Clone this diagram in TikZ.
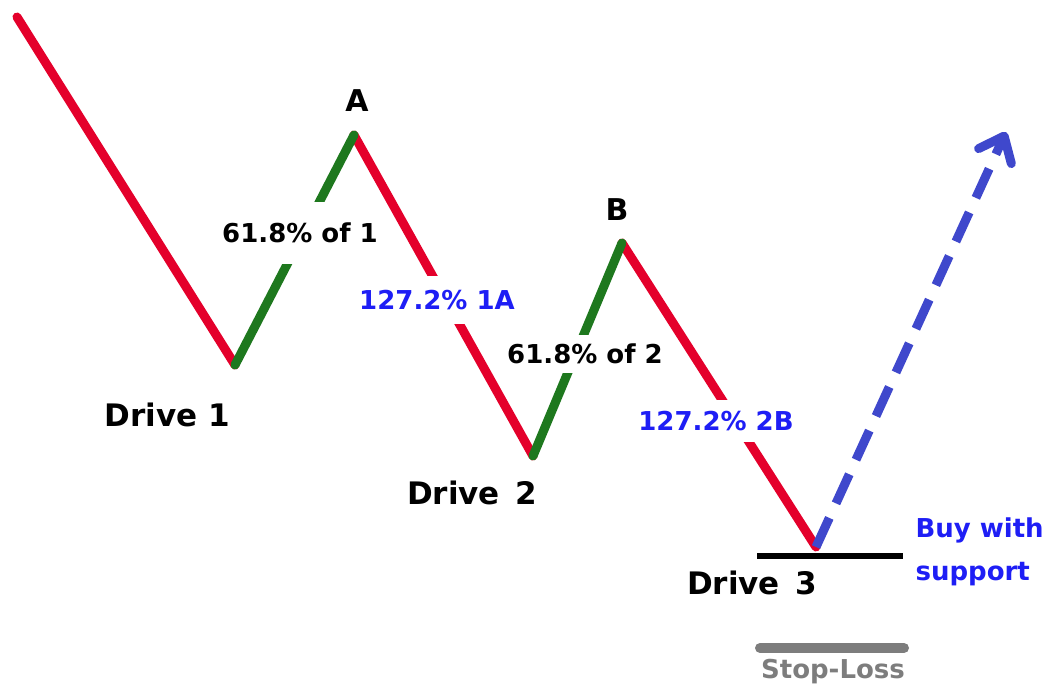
\documentclass[tikz,border=0pt]{standalone}
\usepackage{fontspec}
\setmainfont{DejaVu Sans}
\usetikzlibrary{arrows.meta}
\definecolor{legred}{RGB}{228,0,43}
\definecolor{leggreen}{RGB}{30,120,30}
\definecolor{ratioblue}{RGB}{30,30,245}
\definecolor{arrowblue}{RGB}{63,72,204}
\definecolor{stopgray}{RGB}{125,125,125}
\begin{document}
\begin{tikzpicture}[x=1pt, y=-1pt, every node/.style={font=\bfseries\fontsize{26}{43}\selectfont}, leg/.style={line width=9pt, line cap=round, line join=round}, cut/.style={fill=white, inner xsep=3pt}, drive/.style={font=\bfseries\fontsize{31}{36}\selectfont}, peak/.style={font=\bfseries\fontsize{30}{36}\selectfont}]
	\useasboundingbox (0,0) rectangle (1052,688);
	\coordinate (start) at (17,17);
	\coordinate (d1) at (235,365);
	\coordinate (a) at (354,135);
	\coordinate (d2) at (533,456);
	\coordinate (b) at (622,243);
	\coordinate (d3) at (816,547);
	\coordinate (tip) at (1006,132);
	\draw[leg, legred] (start) -- (d1);
	\draw[leg, legred] (a) -- (d2);
	\draw[leg, legred] (b) -- (d3);
	\draw[leg, leggreen] (d1) -- (a);
	\draw[leg, leggreen] (d2) -- (b);
	\draw[line width=9pt, arrowblue, dash pattern=on 32pt off 16pt, -{Straight Barb[round, length=22pt, width=36pt]}] (d3) -- (tip);
	\node[cut, inner ysep=21pt] (of1) at (300,233) {61.8\% of 1};
	\node[cut, inner ysep=14pt, text=ratioblue] (ext1) at (437,300) {127.2\% 1A};
	\node[cut, inner ysep=9pt] (of2) at (585,354) {61.8\% of 2};
	\node[cut, inner ysep=11pt, text=ratioblue] (ext2) at (716,421) {127.2\% 2B};
	\node[peak] (la) at (357,101) {A};
	\node[peak] (lb) at (617,210) {B};
	\node[drive] (dr1) at (167,415) {Drive 1};
	\node[drive] (dr2) at (472,493) {Drive\hspace{0.5em}2};
	\node[drive] (dr3) at (752,583) {Drive\hspace{0.5em}3};
	\coordinate (sup1) at (757,556);
	\coordinate (sup2) at (903,556);
	\draw[line width=6pt] (sup1) -- (sup2);
	\node[anchor=west, align=left, text=ratioblue] (buy) at (912,552) {Buy with\\support};
	\coordinate (sl1) at (760,648);
	\coordinate (sl2) at (904,648);
	\draw[line width=10pt, line cap=round, stopgray] (sl1) -- (sl2);
	\node[text=stopgray] (stop) at (833,672) {Stop-Loss};
\end{tikzpicture}
\end{document}
